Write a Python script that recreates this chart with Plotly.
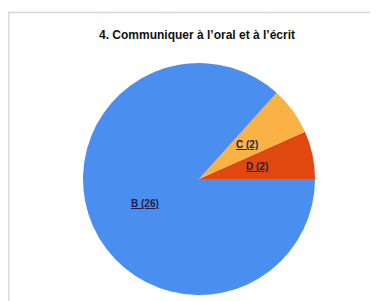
import math
import plotly.graph_objects as go

labels = ["D", "C", "B"]
values = [2, 2, 26]
colors = ["#e0480f", "#fab245", "#4a8ef0"]
title = "4. Communiquer à l’oral et à l’écrit"

# page body has an 8px margin, so the figure starts at (8, 8)
W, H = 370, 293
cx, cy, r = 191, 171, 116

fig = go.Figure(go.Pie(
    labels=labels,
    values=values,
    marker=dict(colors=colors, line=dict(width=0)),
    sort=False,
    direction="counterclockwise",
    rotation=66,
    textposition="none",
    showlegend=False,
    hoverinfo="label+value",
    domain=dict(x=[(cx - r) / W, (cx + r) / W], y=[1 - (cy + r) / H, 1 - (cy - r) / H]),
))

# labels at half radius, mid-angle of each slice (counterclockwise from 3 o'clock)
annotations = []
total = sum(values)
start = 0.0
for lab, val in zip(labels, values):
    span = 360.0 * val / total
    mid = math.radians(start + span / 2)
    start += span
    x = cx + 0.51 * r * math.cos(mid)
    y = cy - 0.51 * r * math.sin(mid)
    annotations.append(dict(
        text="<u>%s (%d)</u>" % (lab, val), x=x / W, y=1 - y / H, xref="paper", yref="paper",
        showarrow=False, xanchor="center", yanchor="middle",
        font=dict(family="Liberation Sans", size=10, color="#1c1f4f", weight="bold"),
    ))

fig.update_layout(
    width=W, height=H,
    margin=dict(l=0, r=0, t=0, b=0),
    paper_bgcolor="white",
    title=dict(text="<b>" + title + "</b>", x=189 / W, xanchor="center", y=1 - 27 / H, yanchor="middle",
               font=dict(family="Liberation Sans", size=12, color="#111111")),
    shapes=[dict(type="rect", xref="paper", yref="paper", x0=0.5 / W, x1=1.2, y0=-0.2, y1=1 - 4.5 / H,
                 line=dict(color="#d6d6d6", width=1.5), layer="below")],
    annotations=annotations,
)

fig.write_html("out.html")
